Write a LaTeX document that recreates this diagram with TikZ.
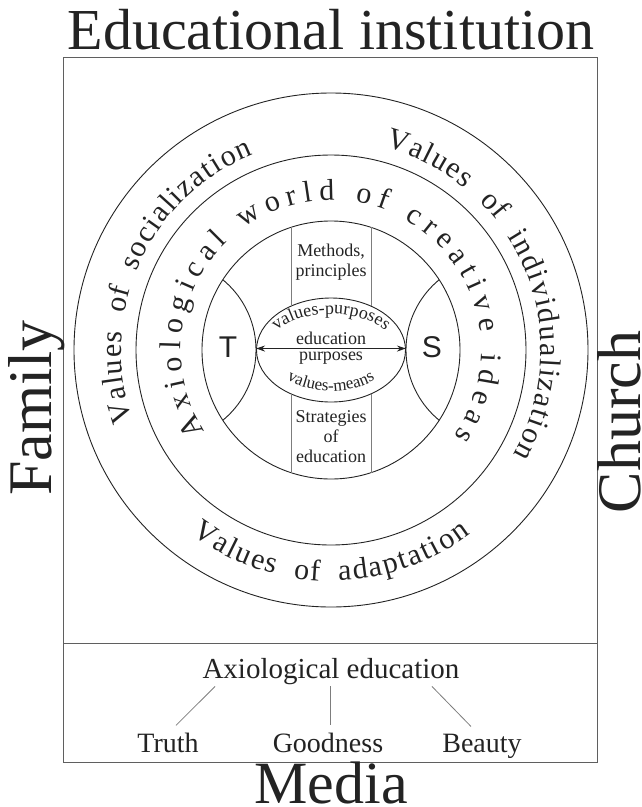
\documentclass[tikz,border=0pt]{standalone}
\usepackage{fontspec}
\setmainfont{Liberation Serif}
\newfontfamily\letterfont{Liberation Sans}
\usepackage{tikz}
\usetikzlibrary{decorations.text, arrows.meta, shapes.geometric}
\definecolor{Ink}{RGB}{35,35,35}
\definecolor{Frame}{RGB}{95,95,95}
\definecolor{Rule}{RGB}{125,125,125}
\newcommand{\fs}[1]{\fontsize{#1}{#1}\selectfont}
% one word set along an arc round (ctr): radius, from, to, word
\newcommand{\ringword}[4]{\path [spread text={|\fs{30}|#4}] ([shift={(#2:#1)}]ctr) arc[start angle=#2, end angle=#3, radius=#1];}

\tikzset{
  ring/.style={draw=Ink, line width=0.9pt},
  strip/.style={draw=Rule, line width=0.8pt},
  link/.style={draw=Rule, line width=0.8pt},
  label/.style={text=Ink, inner sep=1pt},
  spread text/.style={decorate, decoration={text along path, text align=fit to path, text color=Ink, text={#1}}},
  arc text/.style={decorate, decoration={text along path, text align=center, text color=Ink, text={#1}}},
}

\begin{document}
\begin{tikzpicture}[x=1pt, y=1pt]
	\useasboundingbox (0,0) rectangle (641,-807);

	% Frame
	\draw [draw=Frame, line width=1pt] (63,-57) rectangle (597,-762);
	\draw [draw=Frame, line width=1pt] (63,-643) -- (597,-643);

	% Circles
	\coordinate (ctr) at (331,-350);
	\draw [ring] (ctr) circle[radius=257];
	\draw [ring] (ctr) circle[radius=195];
	\draw [ring] (ctr) circle[radius=129];

	% T and S zones
	\begin{scope}
		\clip (ctr) circle[radius=129];
		\draw [ring] (165,-350) circle[radius=91];
		\draw [ring] (497,-350) circle[radius=91];
	\end{scope}

	% Goals
	\node [ellipse, draw=Ink, line width=0.9pt, minimum width=149pt, minimum height=104pt, inner sep=0pt] (goal) at (331,-350) {};
	\draw [strip] (291,-227.4) -- (291,-306.1);
	\draw [strip] (371,-227.4) -- (371,-306.1);
	\draw [strip] (291,-393.9) -- (291,-472.6);
	\draw [strip] (371,-393.9) -- (371,-472.6);
	\draw [draw=Ink, line width=1.1pt, {Stealth[length=9pt,width=6pt]}-{Stealth[length=9pt,width=6pt]}] ([yshift=1.5pt]goal.west) -- ([yshift=1.5pt]goal.east);

	% Ring text
	\ringword{210}{199.5}{175}{Values}
	\ringword{210}{170}{163}{of}
	\ringword{210}{158}{111.6}{socialization}

	\ringword{210}{75}{50.3}{Values}
	\ringword{210}{45.1}{38}{of}
	\ringword{210}{32.8}{-29.9}{individualization}

	\ringword{231}{233}{255.9}{Values}
	\ringword{231}{260.6}{267.2}{of}
	\ringword{231}{271.9}{307.2}{adaptation}

	\path [spread text={|\fs{30}|Axiological world of creative ideas}] ([shift={(213:150)}]ctr) arc[start angle=213, end angle=-35, radius=150];
	\path [arc text={|\fs{18}|values-purposes}] ([shift={(175:64 and 36)}]ctr) arc[start angle=175, end angle=5, x radius=64, y radius=36];
	\path [arc text={|\fs{17}|values-means}] ([shift={(195:64 and 41)}]ctr) arc[start angle=195, end angle=345, x radius=64, y radius=41];

	% Text
	\node [label, align=center, font=\fontsize{18}{20}\selectfont] (methods) at (331,-262) {Methods,\\principles};
	\node [label, align=center, font=\fontsize{18}{20}\selectfont] (strategies) at (331,-437) {Strategies\\of\\education};
	\node [label, anchor=base, font=\fs{18}] (edu) at (331,-344) {education};
	\node [label, anchor=base, font=\fs{18}] (purposes) at (331,-360) {purposes};
	\node [label, font=\letterfont\fs{30}] (teacher) at (228,-347) {T};
	\node [label, font=\letterfont\fs{30}] (student) at (432,-347) {S};

	\node [label, font=\fs{58}] (institution) at (331,-30) {Educational institution};
	\node [label, rotate=90, anchor=base, font=\fs{62}] (family) at (52,-408) {Family};
	\node [label, rotate=90, anchor=base, font=\fs{62}] (church) at (640.5,-422) {Church};
	\node [label, anchor=base, font=\fs{60}] (media) at (331,-803) {Media};

	\node [label, anchor=base, font=\fs{29}] (axed) at (331,-678) {Axiological education};
	\node [label, anchor=base, font=\fs{28}] (truth) at (168,-752) {Truth};
	\node [label, anchor=base, font=\fs{28}] (goodness) at (328,-752) {Goodness};
	\node [label, anchor=base, font=\fs{28}] (beauty) at (482,-752) {Beauty};
	\draw [link] ([xshift=-116pt, yshift=-1pt]axed.south) -- ([xshift=8pt, yshift=6pt]truth.north);
	\draw [link] ([xshift=-1pt, yshift=-1pt]axed.south) -- ([xshift=2pt, yshift=6pt]goodness.north);
	\draw [link] ([xshift=101pt, yshift=-1pt]axed.south) -- ([xshift=-11pt, yshift=6pt]beauty.north);
\end{tikzpicture}
\end{document}
